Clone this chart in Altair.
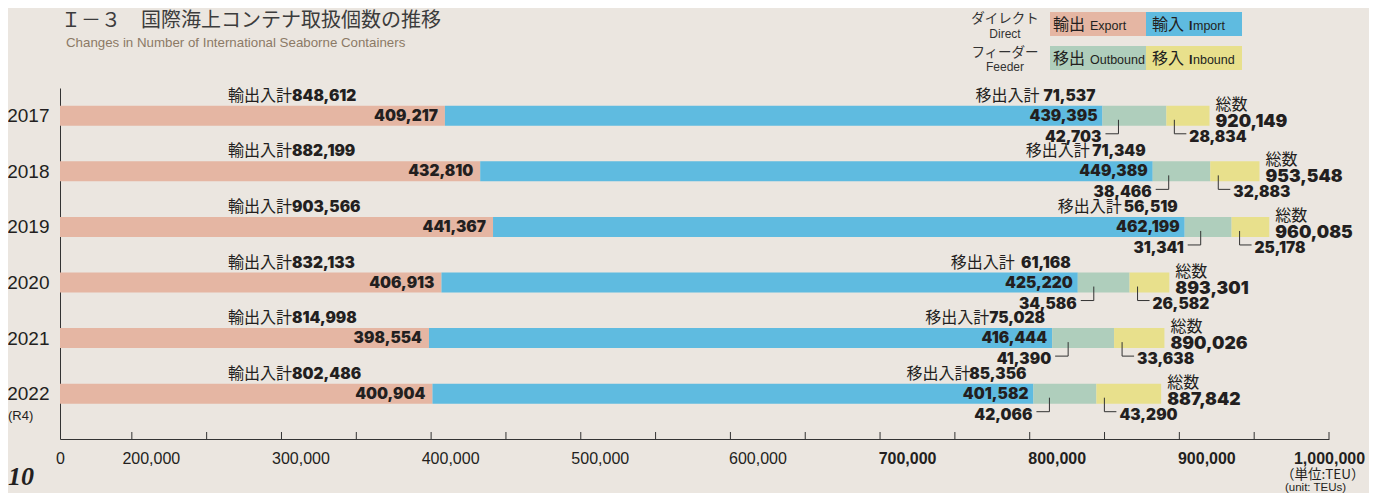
import json
import altair as alt
import pandas as pd

# ---------------- data ----------------
years = ["2017", "2018", "2019", "2020", "2021", "2022"]
year_notes = ["", "", "", "", "", "(R4)"]
export_ = [409217, 432810, 441367, 406913, 398554, 400904]
import_ = [439395, 449389, 462199, 425220, 416444, 401582]
outbound = [42703, 38466, 31341, 34586, 41390, 42066]
inbound = [28834, 32883, 25178, 26582, 33638, 43290]
direct_total = [848612, 882199, 903566, 832133, 814998, 802486]
feeder_total = [71537, 71349, 56519, 61168, 75028, 85356]
grand_total = [920149, 953548, 960085, 893301, 890026, 887842]

segments = ["輸出", "輸入", "移出", "移入"]
seg_en = ["Export", "Import", "Outbound", "Inbound"]
seg_colors = ["#e5b6a3", "#5fbbe0", "#afcebc", "#e8e08c"]

x_min = 152000
x_labels = [x_min, 200000, 300000, 400000, 500000, 600000, 700000, 800000, 900000, 1000000]
x_ticks = [200000, 250000, 300000, 350000, 400000, 450000, 500000, 550000, 600000,
           650000, 700000, 750000, 800000, 850000, 900000, 950000, 1000000]

title_jp = "Ｉ－３　国際海上コンテナ取扱個数の推移"
title_en = "Changes in Number of International Seaborne Containers"
unit_jp = "（単位:TEU）"
unit_en = "(unit: TEUs)"
page_no = "10"

# ---------------- styles ----------------
BG = "#ebe6e0"
TXT = "#231f20"
JP = "Noto Sans CJK JP"
LAT = "Liberation Sans"
NUM = "Inter"
NUMW = 900
W, H = 1269, 351
X0, Y0 = 60, 88  # image position of plot origin


def px(ix):
    return ix - X0


def py(iy):
    return iy - Y0


# ---------------- tables ----------------
rows = []
for i in range(len(years)):
    cum_imp = export_[i] + import_[i]
    cum_out = cum_imp + outbound[i]
    rows.append(dict(
        idx=i, year=years[i], note=year_notes[i],
        exp=export_[i], cum_imp=cum_imp, cum_out=cum_out, total=grand_total[i],
        exp_l=f"{export_[i]:,}", imp_l=f"{import_[i]:,}",
        out_l=f"{outbound[i]:,}", inb_l=f"{inbound[i]:,}",
        dir_l=f"{direct_total[i]:,}", fee_l=f"{feeder_total[i]:,}",
        tot_l=f"{grand_total[i]:,}",
    ))
df = pd.DataFrame(rows)

seg_rows = []
for i in range(len(years)):
    bounds = [0, export_[i], export_[i] + import_[i],
              export_[i] + import_[i] + outbound[i], grand_total[i]]
    for k, s in enumerate(segments):
        seg_rows.append(dict(idx=i, seg=s, start=bounds[k], end=bounds[k + 1]))
seg_df = pd.DataFrame(seg_rows)

tick_df = pd.DataFrame({"v": x_ticks})
one = pd.DataFrame({"a": [0]})

xs = alt.Scale(domain=[x_min, 1000000], nice=False, zero=False)
ys = alt.Scale(domain=[-0.5, 5.815], reverse=True, nice=False, zero=False)

x_axis = alt.Axis(
    values=x_labels,
    labelExpr="datum.value < 200000 ? '0' : format(datum.value, ',')",
    ticks=False, grid=False, title=None,
    domainColor="#333333", domainWidth=1,
    labelFont=LAT, labelFontSize=16, labelColor=TXT, labelPadding=11,
    labelFlush=False, labelOverlap=False,
    labelFontWeight={"condition": {"test": "datum.value >= 700000", "value": "bold"}, "value": "normal"},
    labelOffset={"condition": [
        {"test": "datum.value < 200000 || datum.value >= 1000000", "value": 0},
        {"test": "datum.value >= 600000", "value": 27}], "value": 19},
)
y_axis = alt.Axis(
    values=list(range(len(years))),
    labelExpr=f"{json.dumps(years)}[datum.value]",
    ticks=False, grid=False, title=None,
    domainColor="#333333", domainWidth=1,
    labelFont=LAT, labelFontSize=19, labelColor=TXT, labelPadding=11,
    labelOverlap=False, labelBaseline="middle",
)


def X(field):
    return alt.X(field, scale=xs, axis=x_axis, title=None)


def Y():
    return alt.Y("idx:Q", scale=ys, axis=y_axis, title=None)


bars = alt.Chart(seg_df).mark_rect(clip=True, yOffset=-10, y2Offset=10).encode(
    x=X("start:Q"),
    x2="end:Q",
    y=Y(),
    y2="idx:Q",
    color=alt.Color("seg:N", scale=alt.Scale(domain=segments, range=seg_colors), legend=None),
)

ticks = alt.Chart(tick_df).mark_rule(color="#333333", strokeWidth=1).encode(
    x=X("v:Q"), y=alt.value(H - 7), y2=alt.value(H)
)

base = alt.Chart(df)


def txt(field, xfield, dx=0, dy=0, align="left", font=NUM, size=15.5, weight=NUMW):
    return base.mark_text(font=font, fontSize=size, fontWeight=weight, color=TXT,
                          align=align, baseline="middle", dx=dx, dy=dy).encode(
        x=X(xfield), y=Y(), text=f"{field}:N")


dir_lab = base.mark_text(text="輸出入計", font=JP, fontSize=16, color=TXT, align="right",
                         baseline="middle", dy=-20).encode(x=alt.value(px(292)), y=Y())
dir_num = base.mark_text(font=NUM, fontSize=15.5, fontWeight=NUMW, color=TXT, align="left",
                         baseline="middle", dy=-20).encode(x=alt.value(px(292)), y=Y(), text="dir_l:N")
exp_num = txt("exp_l", "exp:Q", dx=-7, align="right")
imp_num = txt("imp_l", "cum_imp:Q", dx=-5, align="right")
fee_num = txt("fee_l", "cum_imp:Q", dx=-7, dy=-20, align="right")
fee_lab = base.mark_text(text="移出入計", font=JP, fontSize=16, color=TXT, align="right",
                         baseline="middle", dx=-63, dy=-20).encode(x=X("cum_imp:Q"), y=Y())
out_num = txt("out_l", "cum_imp:Q", dx=-1, dy=21, align="right")
inb_num = txt("inb_l", "cum_out:Q", dx=23, dy=21, align="left")
tot_lab = base.mark_text(text="総数", font=JP, fontSize=16, color=TXT, align="left",
                         baseline="middle", dx=6, dy=-11).encode(x=X("total:Q"), y=Y())
tot_num = txt("tot_l", "total:Q", dx=6, dy=6, align="left", size=17.5)
note_txt = base.mark_text(font=LAT, fontSize=13, color=TXT, align="left", baseline="middle",
                          dy=22).encode(x=alt.value(-52), y=Y(), text="note:N")

LC = "#333333"
out_v = base.mark_rule(color=LC, strokeWidth=1, xOffset=16, yOffset=4, y2Offset=18).encode(
    x=X("cum_imp:Q"), y=Y(), y2="idx:Q")
out_h = base.mark_rule(color=LC, strokeWidth=1, xOffset=3, x2Offset=16, yOffset=18).encode(
    x=X("cum_imp:Q"), x2="cum_imp:Q", y=Y())
inb_v = base.mark_rule(color=LC, strokeWidth=1, xOffset=8, yOffset=4, y2Offset=18).encode(
    x=X("cum_out:Q"), y=Y(), y2="idx:Q")
inb_h = base.mark_rule(color=LC, strokeWidth=1, xOffset=8, x2Offset=20, yOffset=18).encode(
    x=X("cum_out:Q"), x2="cum_out:Q", y=Y())


def label(text, ix, iy, size, font=JP, weight="normal", color=TXT, align="left", style="normal"):
    return alt.Chart(one).mark_text(text=text, font=font, fontSize=size, fontWeight=weight,
                                    color=color, align=align, baseline="middle",
                                    fontStyle=style).encode(x=alt.value(px(ix)), y=alt.value(py(iy)))


def box(ix1, ix2, iy1, iy2, color):
    return alt.Chart(one).mark_rect(color=color).encode(
        x=alt.value(px(ix1)), x2=alt.value(px(ix2)), y=alt.value(py(iy1)), y2=alt.value(py(iy2)))


deco = [
    label(title_jp, 61, 20.5, 20, color="#3c3c3c"),
    label(title_en, 66, 43, 13.3, font=LAT, color="#8c7a66"),
    label("ダイレクト", 1005, 19, 13.5, align="center", color="#333333"),
    label("Direct", 1005, 33.5, 12, font=LAT, align="center", color="#333333"),
    label("フィーダー", 1005, 53, 13.5, align="center", color="#333333"),
    label("Feeder", 1005, 67, 12, font=LAT, align="center", color="#333333"),
    box(1050, 1146, 12, 36, seg_colors[0]),
    box(1146, 1242, 12, 36, seg_colors[1]),
    box(1050, 1146, 46, 70, seg_colors[2]),
    box(1146, 1242, 46, 70, seg_colors[3]),
    label(segments[0], 1053, 25, 16),
    label(seg_en[0], 1090, 26, 12.5, font=LAT),
    label(segments[1], 1152, 25, 16),
    label(seg_en[1][0], 1189, 26, 12.5, font=LAT, weight="bold"),
    label(seg_en[1][1:], 1193, 26, 12.5, font=LAT),
    label(segments[2], 1053, 59, 16),
    label(seg_en[2], 1090, 60, 12.5, font=LAT),
    label(segments[3], 1152, 59, 16),
    label(seg_en[3][0], 1189, 60, 12.5, font=LAT, weight="bold"),
    label(seg_en[3][1:], 1193, 60, 12.5, font=LAT),
    label(unit_jp, 1281, 475, 13.5),
    label(unit_en, 1285, 488, 11.5, font=LAT),
    label(page_no, 8, 477, 26, font="Liberation Serif", weight="bold", style="italic"),
]

chart = alt.layer(
    bars, ticks, dir_lab, dir_num, exp_num, imp_num, fee_num, fee_lab,
    out_v, out_h, inb_v, inb_h, out_num, inb_num, tot_lab, tot_num, note_txt, *deco
).properties(
    width=W, height=H,
    autosize=alt.AutoSizeParams(type="none"),
    padding={"left": X0 - 8, "top": Y0 - 8, "right": 40, "bottom": 54},
    background=BG,
).configure_view(stroke=None)

chart.save("out.html", embed_options={"renderer": "svg", "actions": False})
